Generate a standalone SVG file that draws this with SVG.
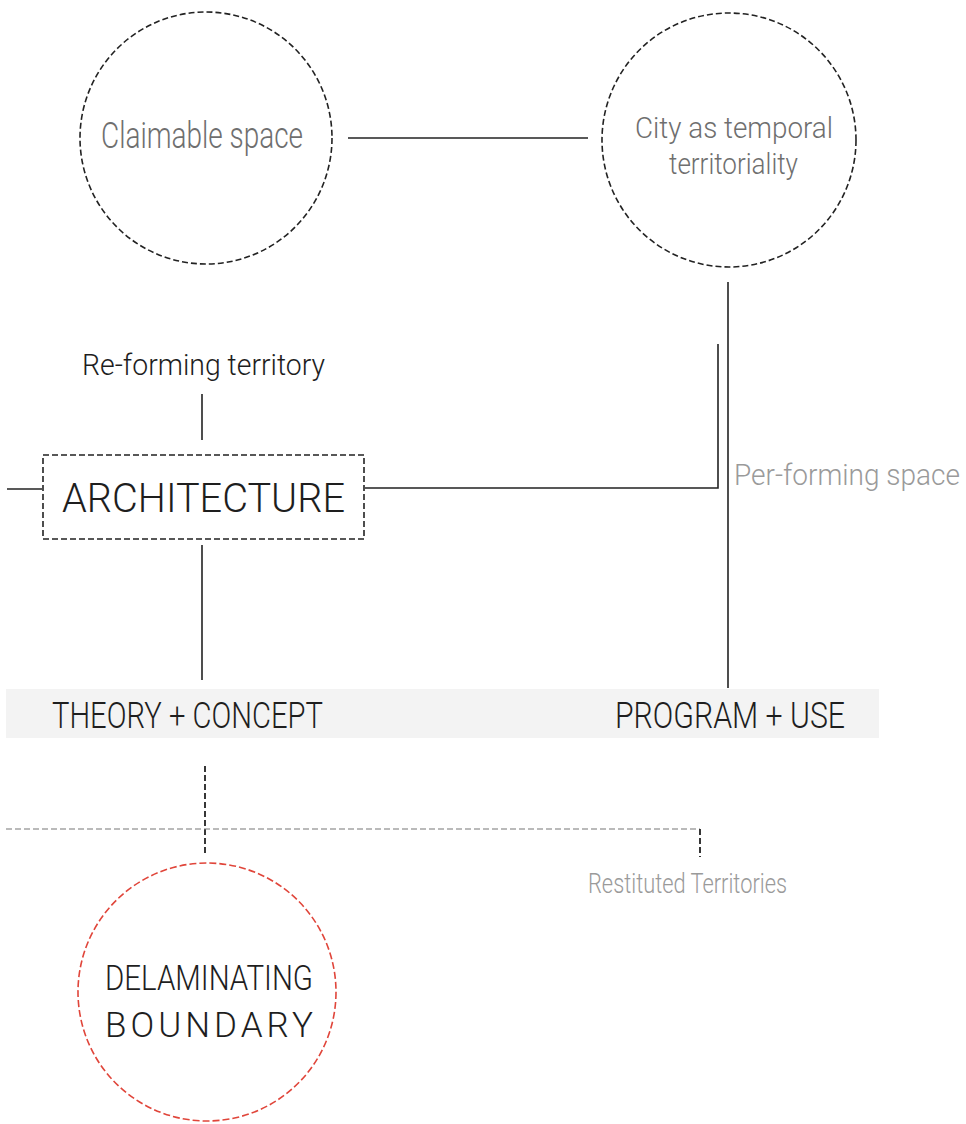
<svg xmlns="http://www.w3.org/2000/svg" width="966" height="1124" viewBox="0 0 966 1124">
  <style>
    text { font-family: Roboto, "Liberation Sans", sans-serif; font-weight: 300; }
    .dark { fill: #1e1e1e; }
    .mid { fill: #6f6f6f; }
    .light { fill: #9a9a9a; }
    .ring { fill: none; stroke: #222; stroke-width: 1.6; stroke-dasharray: 6 3; }
    .redring { fill: none; stroke: #e0453a; stroke-width: 1.6; stroke-dasharray: 7 3; }
    .solid { stroke: #222; stroke-width: 1.6; fill: none; }
    .dash { stroke: #222; stroke-width: 1.8; stroke-dasharray: 6 3; fill: none; }
    .thindash { stroke: #777; stroke-width: 1.2; stroke-dasharray: 6 3; fill: none; }
  </style>
  <rect width="966" height="1124" fill="#ffffff"/>

  <g id="band">
    <rect x="6" y="689" width="873" height="49" fill="#f3f3f3"/>
  </g>

  <g id="connectors">
    <line class="solid" x1="348" y1="138" x2="588" y2="138"/>
    <line class="solid" x1="728" y1="282" x2="728" y2="688"/>
    <polyline class="solid" points="718,344 718,488 365,488"/>
    <line class="solid" x1="7" y1="489" x2="42" y2="489"/>
    <line class="solid" x1="202" y1="394" x2="202" y2="440"/>
    <line class="solid" x1="202" y1="545" x2="202" y2="680"/>
    <line class="dash" x1="205" y1="766" x2="205" y2="853"/>
    <polyline class="thindash" points="6,829 700,829"/>
    <line class="dash" x1="700" y1="829" x2="700" y2="857"/>
  </g>

  <g id="claimable-space">
    <circle class="ring" cx="206" cy="138" r="126"/>
    <text class="mid" x="101" y="148" font-size="36" textLength="202" lengthAdjust="spacingAndGlyphs">Claimable space</text>
  </g>

  <g id="city-temporal">
    <circle class="ring" cx="729" cy="140" r="127"/>
    <text class="mid" x="635" y="138" font-size="30" textLength="198" lengthAdjust="spacingAndGlyphs">City as temporal</text>
    <text class="mid" x="669" y="174" font-size="30" textLength="129" lengthAdjust="spacingAndGlyphs">territoriality</text>
  </g>

  <g id="re-forming">
    <text class="dark" x="82" y="375" font-size="30" textLength="243" lengthAdjust="spacingAndGlyphs">Re-forming territory</text>
  </g>

  <g id="architecture">
    <rect class="ring" x="43" y="455" width="321" height="84" stroke-width="1.4" stroke-dasharray="5 3"/>
    <text class="dark" x="62" y="512" font-size="41" textLength="283" lengthAdjust="spacingAndGlyphs">ARCHITECTURE</text>
  </g>

  <g id="per-forming">
    <text class="light" x="734" y="485" font-size="29" textLength="226" lengthAdjust="spacingAndGlyphs">Per-forming space</text>
  </g>

  <g id="theory-concept">
    <text class="dark" x="52" y="728" font-size="36" textLength="271" lengthAdjust="spacingAndGlyphs">THEORY + CONCEPT</text>
  </g>

  <g id="program-use">
    <text class="dark" x="615" y="728" font-size="36" textLength="230" lengthAdjust="spacingAndGlyphs">PROGRAM + USE</text>
  </g>

  <g id="restituted">
    <text class="light" x="588" y="893" font-size="28" textLength="199" lengthAdjust="spacingAndGlyphs">Restituted Territories</text>
  </g>

  <g id="delaminating-boundary">
    <circle class="redring" cx="207" cy="992" r="129"/>
    <text class="dark" x="105" y="990" font-size="35" textLength="208" lengthAdjust="spacingAndGlyphs">DELAMINATING</text>
    <text class="dark" x="105" y="1037" font-size="35" textLength="208" lengthAdjust="spacing">BOUNDARY</text>
  </g>
</svg>
